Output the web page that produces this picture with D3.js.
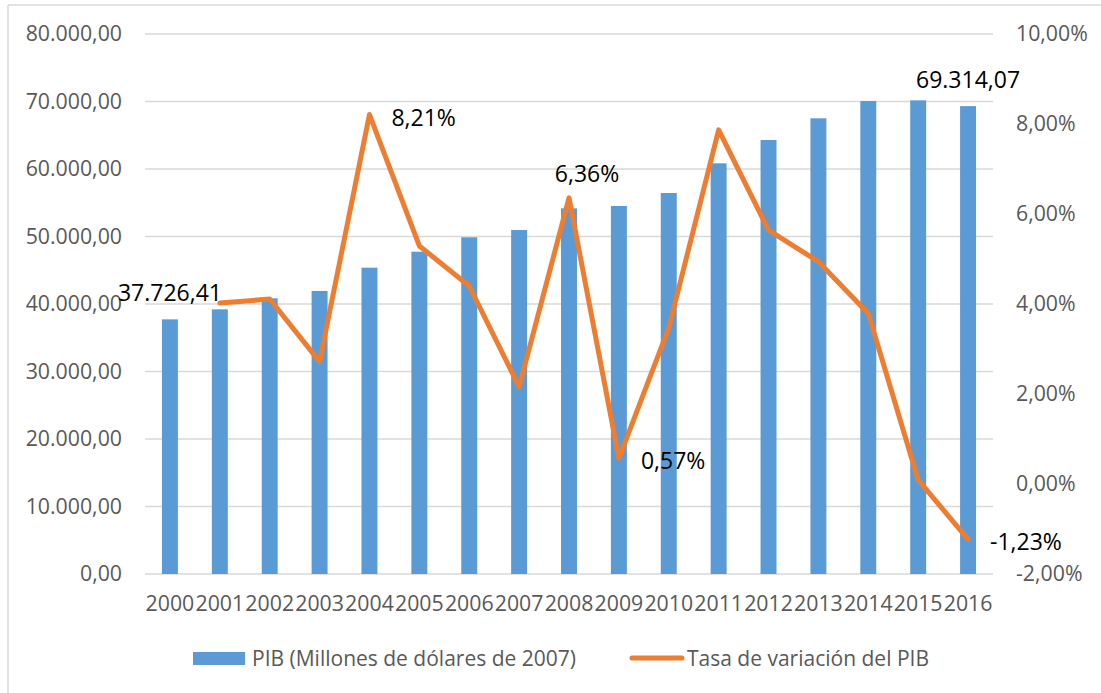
<!DOCTYPE html>
<html>
<head>
<meta charset="utf-8">
<script src="https://cdn.jsdelivr.net/npm/d3@7/dist/d3.min.js"></script>
<style>
	body { margin: 0; background: #fff; }
	svg text { font-family: "Open Sans", "Noto Sans", sans-serif; }
</style>
</head>
<body>
<svg id="chart" width="1101" height="693"></svg>
<script>
var years = ['2000','2001','2002','2003','2004','2005','2006','2007','2008','2009','2010','2011','2012','2013','2014','2015','2016'];
var pib = [37726.41, 39210, 40840, 41930, 45380, 47750, 49880, 50960, 54170, 54520, 56440, 60840, 64300, 67510, 70070, 70170, 69314.07];
// 2000 has no variation value
var tasa = [null, 4.02, 4.11, 2.72, 8.21, 5.29, 4.40, 2.16, 6.36, 0.57, 3.47, 7.87, 5.64, 4.94, 3.79, 0.09, -1.23];
var leftTicks = [0, 10000, 20000, 30000, 40000, 50000, 60000, 70000, 80000];
var rightTicks = [-2, 0, 2, 4, 6, 8, 10];
var pibLabels = ['2000', '2016'];
var tasaLabels = ['2004', '2008', '2009', '2016'];
var seriesNames = ['PIB (Millones de dólares de 2007)', 'Tasa de variación del PIB'];

var svg = d3.select('#chart');
var plotLeft = 145, plotRight = 993, plotTop = 34, plotBottom = 574;
var fsAxis = '21.3px', fsLabel = '23px', fsLegend = '21px';

// number formats with spanish separators
var es = d3.formatLocale({decimal: ',', thousands: '.', grouping: [3], currency: ['', ''], minus: '-'});
var fmtPib = es.format(',.2f');
var fmtPct = function (d) { return es.format('.2f')(d) + '%'; };

var x = d3.scaleBand().domain(years).range([plotLeft, plotRight]).paddingInner(0.68).paddingOuter(0.34);
var xc = function (d) { return x(d) + x.bandwidth() / 2; };
var yL = d3.scaleLinear().domain([0, 80000]).range([plotBottom, plotTop]);
var yR = d3.scaleLinear().domain([-2, 10]).range([plotBottom, plotTop]);

// frame (only left and top edges visible)
svg.append('line').attr('x1', 8).attr('y1', 5).attr('x2', 1101).attr('y2', 5)
	.attr('stroke', '#d9d9d9').attr('stroke-width', 1.5);
svg.append('line').attr('x1', 8).attr('y1', 5).attr('x2', 8).attr('y2', 693)
	.attr('stroke', '#d9d9d9').attr('stroke-width', 1.5);

// gridlines
svg.append('g').selectAll('line').data(leftTicks).enter()
	.append('line')
	.attr('x1', plotLeft).attr('x2', plotRight)
	.attr('y1', function (d) { return yL(d); })
	.attr('y2', function (d) { return yL(d); })
	.attr('stroke', '#d9d9d9').attr('stroke-width', 1.4);

// left axis
var axL = d3.axisLeft(yL).tickValues(leftTicks).tickFormat(fmtPib).tickSize(0).tickPadding(23);
var gL = svg.append('g').attr('transform', 'translate(' + [plotLeft, 0] + ')').call(axL);
gL.select('.domain').remove();
gL.selectAll('text').attr('fill', '#595959').style('font-size', fsAxis);
gL.attr('font-family', null).attr('font-size', null);

// right axis
var axR = d3.axisRight(yR).tickValues(rightTicks).tickFormat(fmtPct).tickSize(0).tickPadding(23);
var gR = svg.append('g').attr('transform', 'translate(' + [plotRight, 0] + ')').call(axR);
gR.select('.domain').remove();
gR.selectAll('text').attr('fill', '#595959').style('font-size', fsAxis);
gR.attr('font-family', null).attr('font-size', null);

// bottom axis
var axB = d3.axisBottom(x).tickSize(0).tickPadding(22);
var gB = svg.append('g').attr('transform', 'translate(' + [0, plotBottom] + ')').call(axB);
gB.select('.domain').remove();
gB.selectAll('text').attr('fill', '#595959').style('font-size', fsAxis);
gB.attr('font-family', null).attr('font-size', null);

// bars
svg.append('g').selectAll('rect').data(years).enter()
	.append('rect')
	.attr('x', function (d) { return x(d); })
	.attr('width', x.bandwidth())
	.attr('y', function (d, i) { return yL(pib[i]); })
	.attr('height', function (d, i) { return plotBottom - yL(pib[i]); })
	.attr('fill', '#5b9bd5');

// line
var lineData = years.map(function (d, i) { return {year: d, v: tasa[i]}; })
	.filter(function (d) { return d.v !== null; });
var line = d3.line()
	.x(function (d) { return xc(d.year); })
	.y(function (d) { return yR(d.v); });
svg.append('path').datum(lineData)
	.attr('d', line)
	.attr('fill', 'none')
	.attr('stroke', '#ed7d31')
	.attr('stroke-width', 5)
	.attr('stroke-linejoin', 'round')
	.attr('stroke-linecap', 'round');

// data labels
svg.append('g').selectAll('text').data(pibLabels).enter()
	.append('text')
	.attr('x', function (d) { return xc(d); })
	.attr('y', function (d) { return yL(pib[years.indexOf(d)]) - 27; })
	.attr('text-anchor', 'middle')
	.attr('dominant-baseline', 'central')
	.style('font-size', fsLabel)
	.attr('fill', '#000')
	.text(function (d) { return fmtPib(pib[years.indexOf(d)]); });

svg.append('g').selectAll('text').data(tasaLabels).enter()
	.append('text')
	.attr('x', function (d) { return d === '2008' ? xc(d) + 18 : xc(d) + 22; })
	.attr('y', function (d) {
		var v = tasa[years.indexOf(d)];
		return d === '2008' ? yR(v) - 25 : yR(v) + 2;
	})
	.attr('text-anchor', function (d) { return d === '2008' ? 'middle' : 'start'; })
	.attr('dominant-baseline', 'central')
	.style('font-size', fsLabel)
	.attr('fill', '#000')
	.text(function (d) { return fmtPct(tasa[years.indexOf(d)]); });

// legend
var lg = svg.append('g');
lg.append('rect').attr('x', 193).attr('y', 652).attr('width', 52).attr('height', 13).attr('fill', '#5b9bd5');
lg.append('text').attr('x', 252).attr('y', 658).attr('dominant-baseline', 'central')
	.style('font-size', fsLegend).attr('fill', '#595959').text(seriesNames[0]);
lg.append('line').attr('x1', 632).attr('x2', 682).attr('y1', 658).attr('y2', 658)
	.attr('stroke', '#ed7d31').attr('stroke-width', 5).attr('stroke-linecap', 'round');
lg.append('text').attr('x', 687).attr('y', 658).attr('dominant-baseline', 'central')
	.style('font-size', fsLegend).attr('fill', '#595959').text(seriesNames[1]);
</script>
</body>
</html>
